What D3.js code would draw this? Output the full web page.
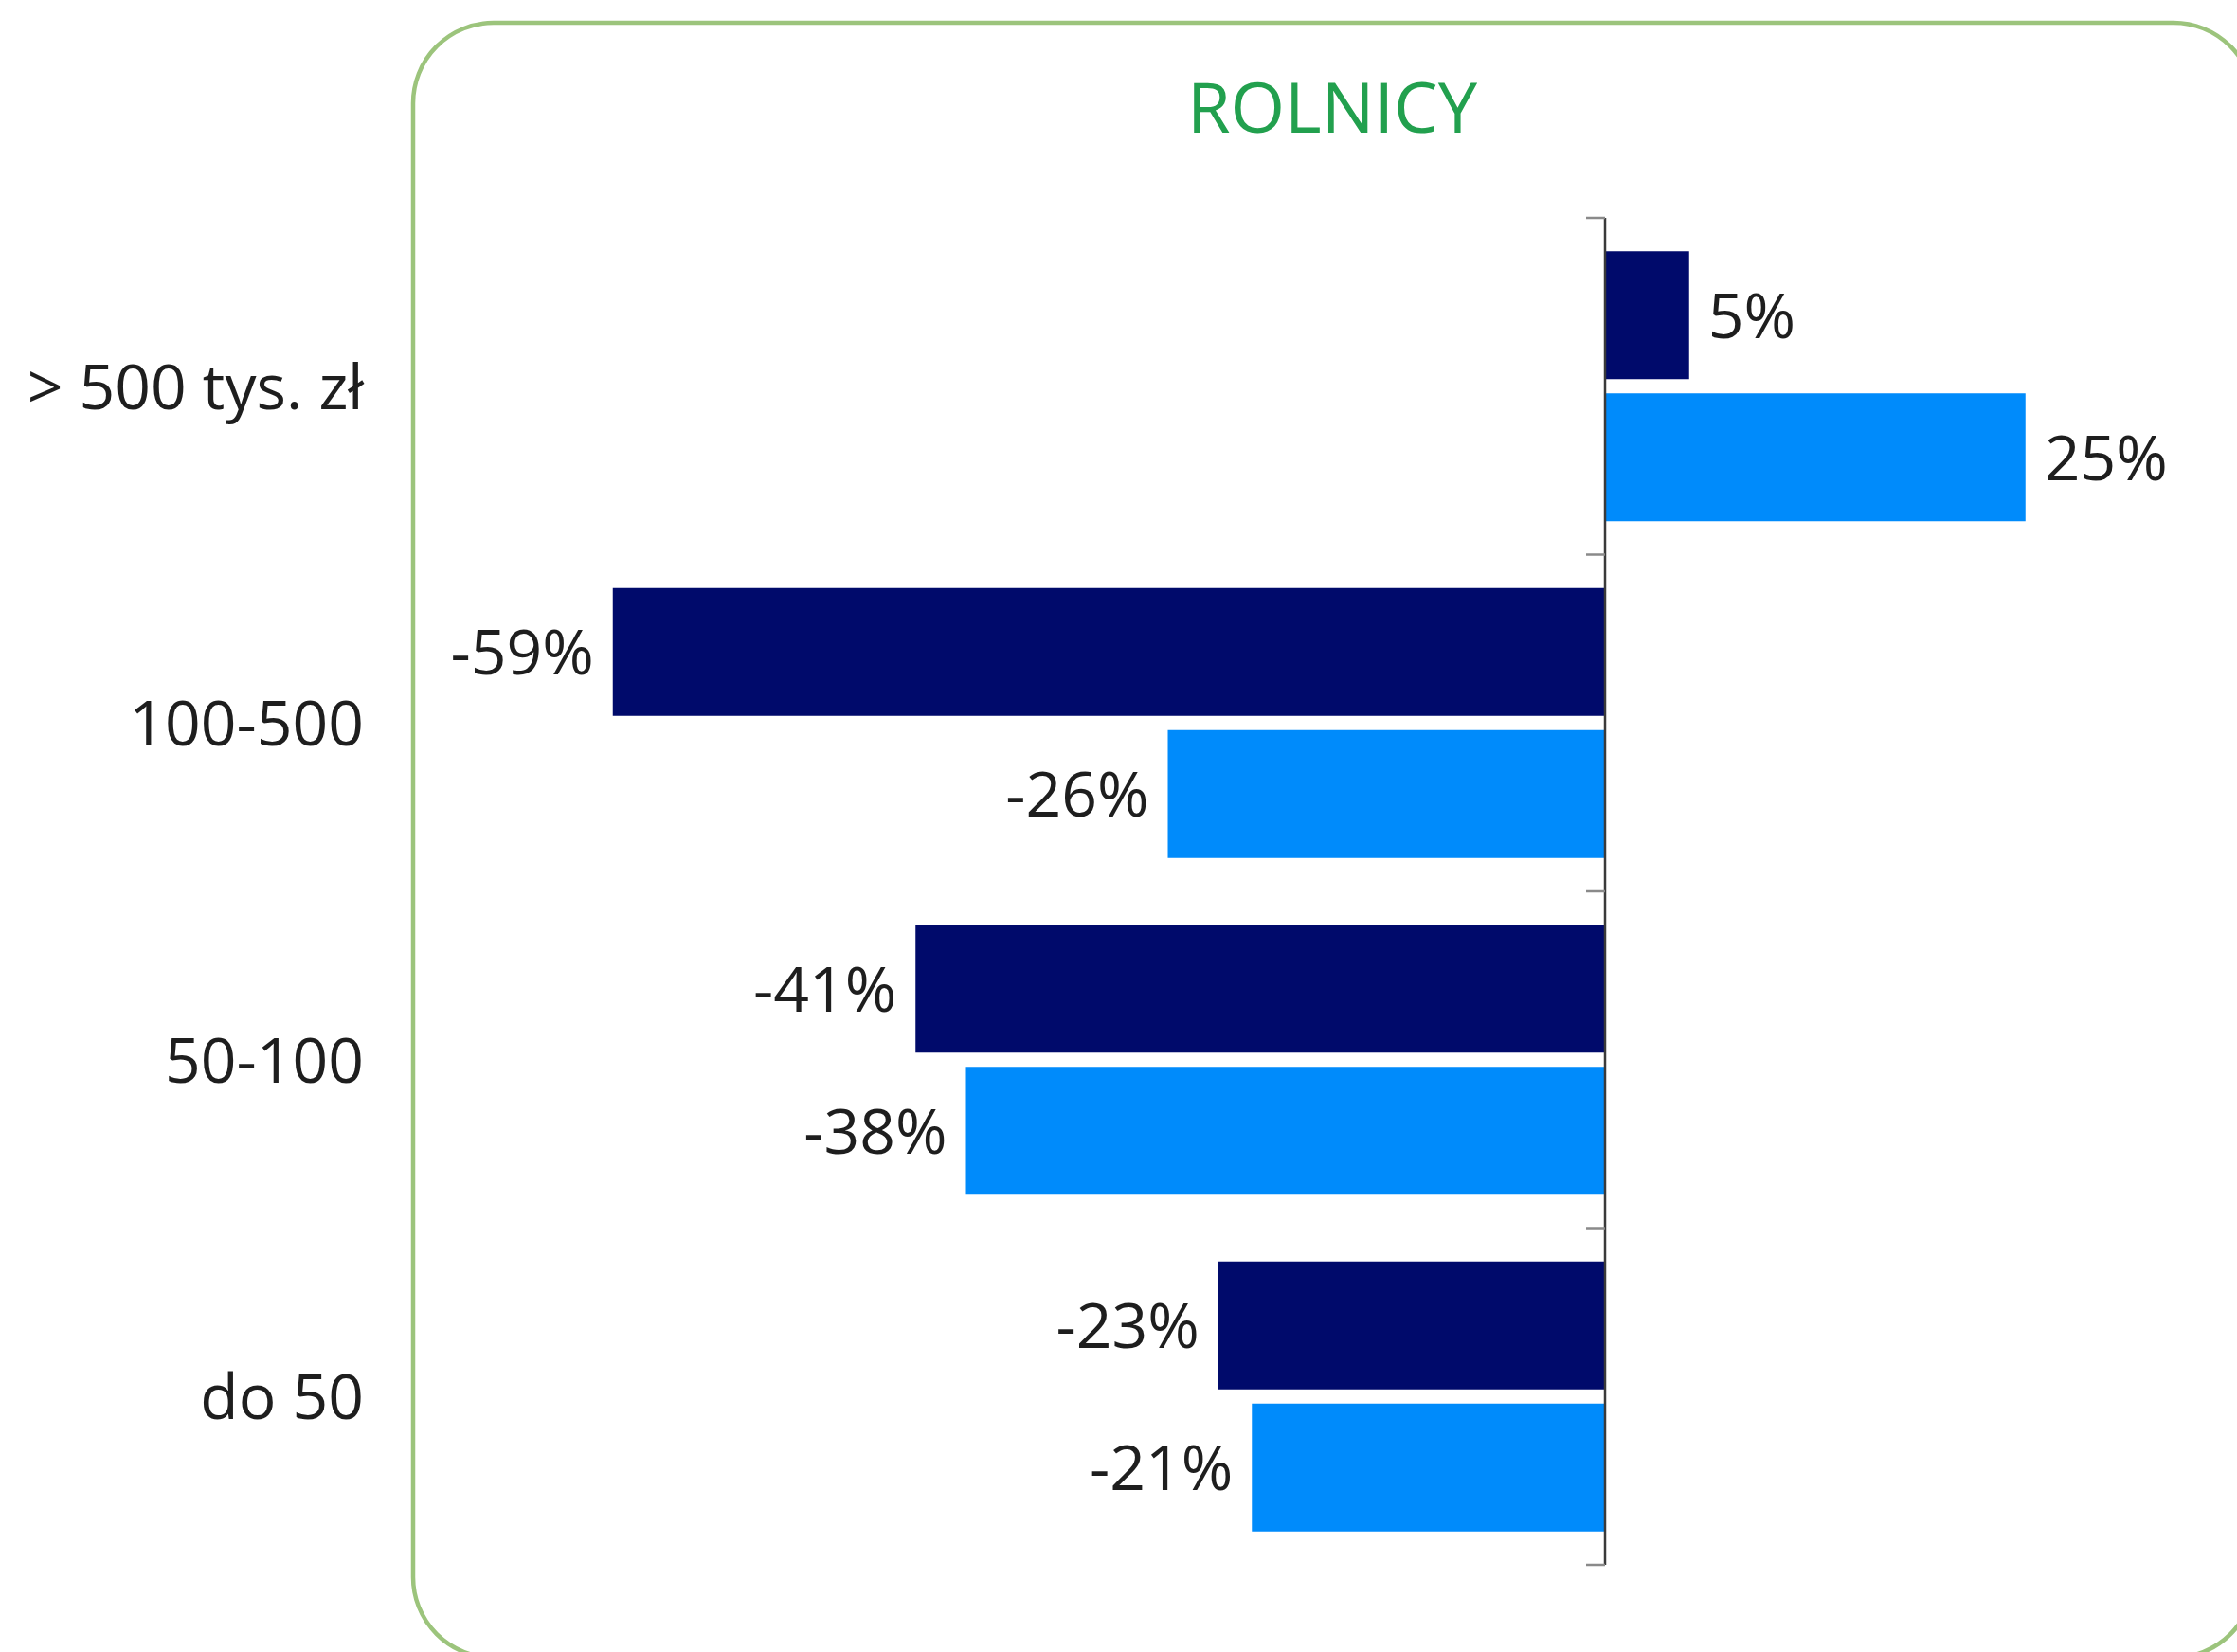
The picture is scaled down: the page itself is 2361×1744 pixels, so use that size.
<!DOCTYPE html>
<html>
<head>
<meta charset="utf-8">
<script src="https://cdn.jsdelivr.net/npm/d3@7"></script>
<style>
  html, body { margin: 0; padding: 0; background: #ffffff; overflow: hidden; }
  svg { display: block; }
</style>
</head>
<body>
<svg id="chart" width="2361" height="1744"></svg>
<script>
// ---- data ----
const title = "ROLNICY";
const categories = ["> 500 tys. zł", "100-500", "50-100", "do 50"];
const seriesNames = ["seria 1", "seria 2"];
const seriesDark = [5, -59, -41, -23];
const seriesLight = [25, -26, -38, -21];
const seriesColors = ["#000a6b", "#008bfb"];

const rows = categories.map((c, i) => ({ cat: c, values: [seriesDark[i], seriesLight[i]] }));

// ---- layout ----
const svg = d3.select("#chart");
const FONT = "'Open Sans', 'Noto Sans', sans-serif";

// frame (partly clipped at right and bottom, as in the reference)
svg.append("rect")
  .attr("x", 436).attr("y", 24)
  .attr("width", 2379 - 436).attr("height", 1750 - 24)
  .attr("rx", 85).attr("ry", 85)
  .attr("fill", "none")
  .attr("stroke", "#9cc47c")
  .attr("stroke-width", 4.5);

// title
svg.append("text")
  .attr("x", 1406).attr("y", 113)
  .attr("dy", "0.36em")
  .attr("text-anchor", "middle")
  .attr("font-family", FONT)
  .attr("font-size", 74)
  .attr("fill", "#22a04e")
  .text(title);

// scales
const pxPerPct = 17.75;
const x = d3.scaleLinear().domain([-60, 30]).range([1694 - 60 * pxPerPct, 1694 + 30 * pxPerPct]);
const y = d3.scaleBand().domain(categories).range([230, 1652]).paddingInner(0).paddingOuter(0);
const ySub = d3.scaleBand().domain(seriesNames).range([0, y.bandwidth()]).paddingInner(0.1).paddingOuter(0.235);

// bars
const groups = svg.append("g").selectAll("g")
  .data(rows).join("g")
  .attr("transform", d => `translate(0,${y(d.cat)})`);

const items = groups.selectAll("g.item")
  .data(d => d.values.map((v, j) => ({ v, s: seriesNames[j], j })))
  .join("g").attr("class", "item");

items.append("rect")
  .attr("x", d => x(Math.min(0, d.v)))
  .attr("y", d => ySub(d.s))
  .attr("width", d => Math.abs(x(d.v) - x(0)))
  .attr("height", ySub.bandwidth())
  .attr("fill", d => seriesColors[d.j]);

items.append("text")
  .attr("x", d => d.v >= 0 ? x(d.v) + 20 : x(d.v) - 20)
  .attr("y", d => ySub(d.s) + ySub.bandwidth() / 2)
  .attr("dy", "0.36em")
  .attr("text-anchor", d => d.v >= 0 ? "start" : "end")
  .attr("font-family", FONT)
  .attr("font-size", 66)
  .attr("fill", "#1e1e1e")
  .text(d => d.v + "%");

// axis (vertical at zero, ticks on category boundaries)
const axisG = svg.append("g");
const yr = y.range();
axisG.append("line")
  .attr("x1", x(0)).attr("x2", x(0))
  .attr("y1", yr[0]).attr("y2", yr[1])
  .attr("stroke", "#3a3a3a").attr("stroke-width", 2.5);
const boundaries = categories.map(c => y(c)).concat([yr[1]]);
axisG.selectAll("line.tick").data(boundaries).join("line")
  .attr("class", "tick")
  .attr("x1", x(0) - 20).attr("x2", x(0))
  .attr("y1", d => d).attr("y2", d => d)
  .attr("stroke", "#8a8a8a").attr("stroke-width", 2.5);

// category labels
svg.append("g").selectAll("text")
  .data(categories).join("text")
  .attr("x", 384)
  .attr("y", d => y(d) + y.bandwidth() / 2)
  .attr("dy", "0.36em")
  .attr("text-anchor", "end")
  .attr("font-family", FONT)
  .attr("font-size", 66)
  .attr("fill", "#1e1e1e")
  .text(d => d);
</script>
</body>
</html>
